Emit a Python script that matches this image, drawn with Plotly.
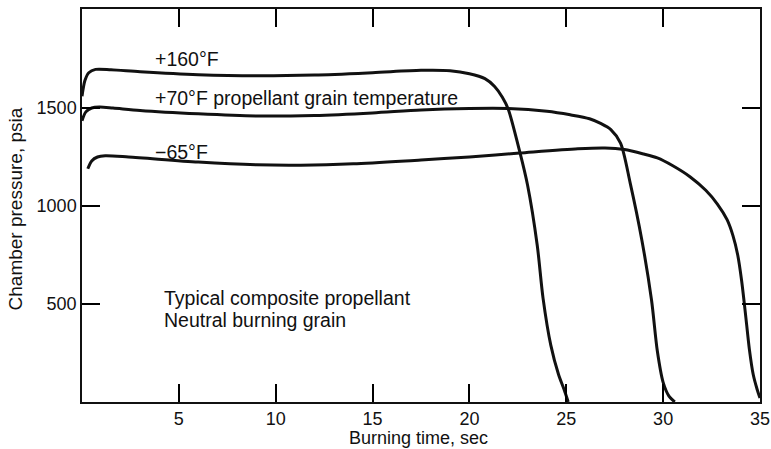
import plotly.graph_objects as go

# Burning time (sec) and chamber pressure (psia) for three grain temperatures
t_160 = [0.0, 0.15, 0.35, 0.7, 1.5, 3, 6, 9, 12, 15, 17.5, 19, 20, 20.8, 21.3, 21.7, 22.0,
         22.6, 23.0, 23.5, 23.8, 24.2, 24.6, 24.9, 25.1]
p_160 = [1560, 1640, 1680, 1697, 1695, 1685, 1670, 1664, 1668, 1680, 1692, 1690, 1675, 1650,
         1610, 1555, 1495, 1276, 1107, 800, 530, 290, 140, 60, 0]

t_70 = [0.0, 0.2, 0.5, 0.9, 1.6, 3, 6, 9, 12, 15, 17.5, 20, 22, 24, 25.2, 26.2, 26.8, 27.3,
        27.8, 28.3, 28.9, 29.4, 29.7, 30.0, 30.3, 30.6]
p_70 = [1435, 1480, 1500, 1505, 1500, 1487, 1470, 1459, 1462, 1475, 1490, 1497, 1497, 1483,
        1465, 1445, 1420, 1390, 1321, 1117, 827, 520, 260, 100, 30, 0]

t_m65 = [0.3, 0.5, 0.8, 1.2, 2.4, 6, 9, 11.3, 14, 17.5, 20, 22.6, 25.6, 27, 28, 29, 29.7,
         30.5, 31.4, 32.2, 32.8, 33.3, 33.6, 33.85, 34.05, 34.25, 34.45, 34.65, 34.85, 35.0]
p_m65 = [1190, 1230, 1250, 1256, 1250, 1224, 1210, 1208, 1215, 1235, 1250, 1270, 1292, 1296,
         1288, 1265, 1245, 1205, 1148, 1080, 1010, 930, 850, 750, 620, 450, 270, 140, 65, 20]

x_ticks = [5, 10, 15, 20, 25, 30, 35]
y_ticks = [500, 1000, 1500]

FONT = "Liberation Sans, Arial, sans-serif"
INK = "#111111"
fig = go.Figure()
for t, p in [(t_160, p_160), (t_70, p_70), (t_m65, p_m65)]:
    fig.add_trace(go.Scatter(x=t, y=p, mode="lines",
                             line=dict(color=INK, width=3, shape="spline", smoothing=0.8),
                             showlegend=False, hoverinfo="skip"))

ann = [
    ("+160°F", 3.66, 1750),
    ("+70°F propellant grain temperature", 3.66, 1551),
    ("\u221265°F", 3.66, 1276),
    ("Typical composite propellant", 4.13, 531),
    ("Neutral burning grain", 4.13, 418),
]
for txt, ax, ay in ann:
    fig.add_annotation(text=txt, x=ax, y=ay, xref="x", yref="y", showarrow=False,
                       xanchor="left", yanchor="middle",
                       font=dict(family=FONT, size=19.5, color=INK))

# axis titles
fig.add_annotation(text="Burning time, sec", x=0.497, y=-0.092, xref="paper", yref="paper",
                   showarrow=False, xanchor="center", yanchor="middle",
                   font=dict(family=FONT, size=18, color=INK))
fig.add_annotation(text="Chamber pressure, psia", x=-0.0988, y=0.49, xref="paper", yref="paper",
                   showarrow=False, xanchor="center", yanchor="middle", textangle=-90,
                   font=dict(family=FONT, size=19, color=INK))

axis_common = dict(showline=True, linecolor=INK, linewidth=1.5, mirror="ticks",
                   ticks="inside", ticklen=18, tickwidth=1.5, tickcolor="black",
                   showgrid=False, zeroline=False, automargin=False,
                   tickfont=dict(family=FONT, size=18, color=INK))

fig.update_xaxes(range=[0, 35], tickvals=x_ticks, **axis_common)
fig.update_yaxes(range=[0, 2005], tickvals=y_ticks, **axis_common)

fig.update_layout(width=771, height=449, margin=dict(l=82, r=11, t=9, b=47, autoexpand=False),
                  plot_bgcolor="white", paper_bgcolor="white")
fig.write_html("out.html", config={"displayModeBar": False},
               post_script="document.body.style.margin='0';document.body.style.overflow='hidden';")
